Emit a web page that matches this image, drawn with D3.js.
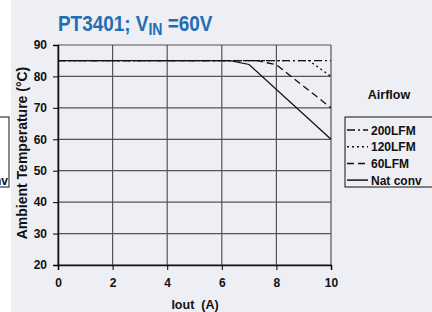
<!DOCTYPE html>
<html lang="en">
<head>
<meta charset="utf-8">
<script src="https://d3js.org/d3.v7.min.js"></script>
<style>
  body { margin: 0; background: #fff; }
  svg text { font-family: Arial, "Liberation Sans", sans-serif; font-weight: bold; }
</style>
</head>
<body>
<script>
// Data
var xTicks = [0, 2, 4, 6, 8, 10];
var yTicks = [20, 30, 40, 50, 60, 70, 80, 90];
var seriesNames = ["200LFM", "120LFM", "60LFM", "Nat conv"];
var lfm200 = [[0, 85], [10, 85]];
var lfm120 = [[0, 85], [9.2, 85], [10, 80]];
var lfm60 = [[0, 85], [7.3, 85], [8, 83.7], [10, 70]];
var natConv = [[0, 85], [6.3, 85], [7, 83.8], [10, 60]];
var dashes = ["8,3,2,3", "2,3", "7,4", null];

var w = 432, h = 312;
var svg = d3.select("body").append("svg").attr("width", w).attr("height", h);

// grey panel
svg.append("rect").attr("x", 11).attr("y", 0).attr("width", w - 11).attr("height", h).attr("fill", "#edeff4");

var xScale = d3.scaleLinear().domain([0, 10]).range([58, 331]);
var yScale = d3.scaleLinear().domain([20, 90]).range([265, 45]);

// grid
svg.append("g").selectAll("line").data(xTicks).enter().append("line")
  .attr("x1", function(d) { return xScale(d); }).attr("x2", function(d) { return xScale(d); })
  .attr("y1", yScale(20)).attr("y2", yScale(90))
  .attr("stroke", "#555").attr("stroke-width", 1.2);
svg.append("g").selectAll("line").data(yTicks).enter().append("line")
  .attr("x1", xScale(0)).attr("x2", xScale(10))
  .attr("y1", function(d) { return yScale(d); }).attr("y2", function(d) { return yScale(d); })
  .attr("stroke", "#555").attr("stroke-width", 1.2);

// axes
var xAxis = d3.axisBottom(xScale).tickValues(xTicks).tickSize(5).tickPadding(8);
var yAxis = d3.axisLeft(yScale).tickValues(yTicks).tickSize(5).tickPadding(6);
svg.append("g").attr("transform", "translate(0," + yScale(20) + ")").call(xAxis)
  .call(function(g) { g.select(".domain").attr("stroke", "#111").attr("stroke-width", 1.5); })
  .call(function(g) { g.selectAll("text").attr("font-size", 12).attr("fill", "#111"); });
svg.append("g").attr("transform", "translate(" + xScale(0) + ",0)").call(yAxis)
  .call(function(g) { g.select(".domain").attr("stroke", "#111").attr("stroke-width", 1.5); })
  .call(function(g) { g.selectAll("text").attr("font-size", 12).attr("fill", "#111"); });

// curves
var line = d3.line().x(function(d) { return xScale(d[0]); }).y(function(d) { return yScale(d[1]); });
[lfm200, lfm120, lfm60, natConv].forEach(function(s, i) {
  svg.append("path").datum(s).attr("d", line)
    .attr("fill", "none").attr("stroke", "#111").attr("stroke-width", 1.3)
    .attr("stroke-dasharray", dashes[i]);
});

// title (condensed look via horizontal squeeze)
var title = svg.append("text").attr("transform", "translate(58,31) scale(0.88,1)")
  .attr("fill", "#1f6db3").attr("font-size", 21.5);
title.append("tspan").text("PT3401; V");
title.append("tspan").attr("font-size", 16).attr("dy", 4).text("IN");
title.append("tspan").attr("dy", -4).text(" =60V");

// axis titles
svg.append("text").attr("transform", "translate(27,153) rotate(-90)")
  .attr("text-anchor", "middle").attr("font-size", 14).attr("fill", "#111")
  .text("Ambient Temperature (\u00b0C)");
svg.append("text").attr("x", 195).attr("y", 309).attr("text-anchor", "middle")
  .attr("xml:space", "preserve").style("white-space", "pre")
  .attr("font-size", 12.5).attr("fill", "#111").text("Iout  (A)");

// legend (box runs past the right edge and shows again at the left)
svg.append("text").attr("x", 389).attr("y", 99).attr("text-anchor", "middle")
  .attr("font-size", 12.5).attr("fill", "#111").text("Airflow");
var lg = svg.append("g").attr("transform", "translate(345,117)");
lg.append("rect").attr("x", 0).attr("y", 0).attr("width", 96).attr("height", 70)
  .attr("fill", "none").attr("stroke", "#111").attr("stroke-width", 1);
seriesNames.forEach(function(name, i) {
  var yy = 13 + i * 16.7;
  lg.append("line").attr("x1", 2).attr("x2", 23).attr("y1", yy).attr("y2", yy)
    .attr("stroke", "#111").attr("stroke-width", 1.5).attr("stroke-dasharray", dashes[i]);
  lg.append("text").attr("x", 26).attr("y", yy + 4.5).attr("font-size", 12)
    .attr("fill", "#111").text(name);
});
var lg2 = svg.append("g").attr("transform", "translate(" + (345 - w) + ",117)");
lg2.append("rect").attr("x", 0).attr("y", 0).attr("width", 96).attr("height", 70)
  .attr("fill", "none").attr("stroke", "#111").attr("stroke-width", 1);
lg2.append("text").attr("x", 95).attr("y", 13 + 3 * 16.7 + 4.5).attr("font-size", 12)
  .attr("text-anchor", "end").attr("fill", "#111").text(seriesNames[3]);
</script>
</body>
</html>
